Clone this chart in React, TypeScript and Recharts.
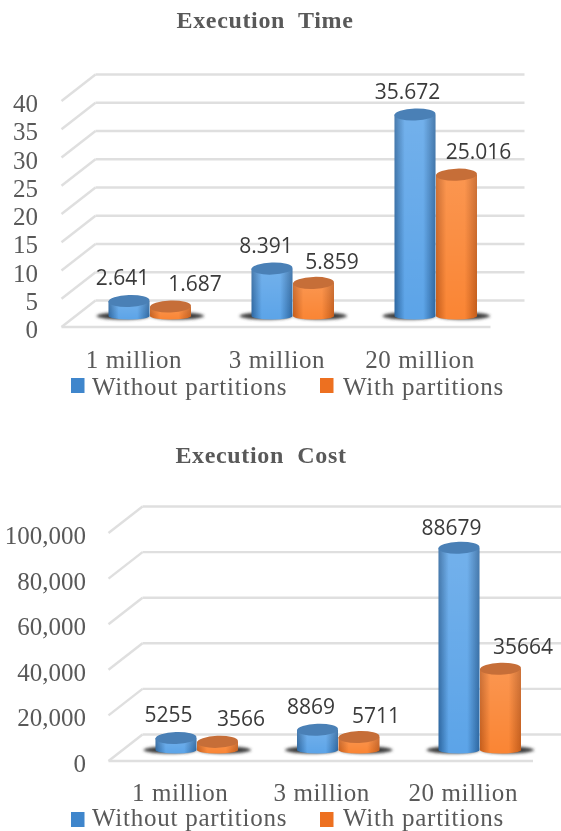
import React from 'react';
import { BarChart, Bar, XAxis, YAxis, CartesianGrid, Legend, LabelList } from 'recharts';

const CATEGORIES = ['1 million', '3 million', '20 million'];
const SERIES_NAMES = ['Without partitions', 'With partitions'];

const TIME_WITHOUT = [2.641, 8.391, 35.672];
const TIME_WITH = [1.687, 5.859, 25.016];
const TIME_TICKS = [0, 5, 10, 15, 20, 25, 30, 35, 40];

const COST_WITHOUT = [5255, 8869, 88679];
const COST_WITH = [3566, 5711, 35664];
const COST_TICKS = [0, 20000, 40000, 60000, 80000, 100000];

// label nudges per bar, the labels were placed by hand in the original
const TIME_NUDGE = [
  [[-6.5, -16], [-6, -15.5], [-7.5, -15.5]],
  [[24.5, -15.5], [18.5, -14], [22, -16]],
];
const COST_NUDGE = [
  [[-7.5, -16], [-6.5, -16], [-7.5, -13]],
  [[23.5, -16], [17, -14], [22.5, -15]],
];

const SERIF = '"Liberation Serif", serif';
const GREY = '#595959';
const DEPTH_X = 17;
const BACK_Y = 15.5;
const FRONT_Y = 11;

const PALETTE = [
  { id: 'blue', edge: '#2c66a0', mid: '#5ca4e8', top: '#4a80b6', legend: '#3f86cc' },
  { id: 'orange', edge: '#c45c1a', mid: '#fa8534', top: '#c66e38', legend: '#ed7020' },
];

const Cylinder = (props: any) => {
  const { x, y, width, height, series } = props;
  const c = PALETTE[series];
  const cx = x + width / 2;
  const rx = width / 2;
  const ry = 6;
  const bottom = y + height;
  const shadowX = series === 0 ? cx - 6 : cx + 7;
  const body = `M${x},${y} L${x},${bottom} A${rx},3.5 0 0 0 ${x + width},${bottom} L${x + width},${y} Z`;
  return (
    <g>
      <ellipse cx={shadowX} cy={bottom} rx={rx + 6} ry={3.5} fill="#3c3c3c" filter="url(#baseShadow)" />
      <path d={body} fill={`url(#body-${c.id})`} />
      <path d={body} fill="url(#sheen)" />
      <ellipse cx={cx} cy={y} rx={rx} ry={ry} fill={c.top} transform={`rotate(-2 ${cx} ${y})`} />
    </g>
  );
};

const AxisValue = ({ y, payload, right, format }: any) => (
  <text x={right} y={y + FRONT_Y + 11} textAnchor="end" fontFamily={SERIF} fontSize={25} fill={GREY}>
    {format(payload.value)}
  </text>
);

const AxisCategory = ({ x, y, payload, shift, drop }: any) => (
  <text x={x + shift} y={y + drop} textAnchor="middle" fontFamily={SERIF} fontSize={25} letterSpacing={0.6} fill={GREY}>
    {payload.value}
  </text>
);

const gridLine = (props: any, lowest: number) => {
  const { x1, x2, y1 } = props;
  const isFloor = Math.abs(y1 - lowest) < 1;
  return (
    <g key={`grid-${y1}`} stroke="#dfdfdf" strokeWidth={2.4} fill="none">
      <line x1={x1 + DEPTH_X} x2={x2 + DEPTH_X} y1={y1 - BACK_Y} y2={y1 - BACK_Y} />
      <line x1={x1 - DEPTH_X} x2={x1 + DEPTH_X} y1={y1 + FRONT_Y} y2={y1 - BACK_Y} />
      {isFloor && <line x1={x1 - DEPTH_X} x2={x2 - DEPTH_X} y1={y1 + FRONT_Y} y2={y1 + FRONT_Y} />}
    </g>
  );
};

const LegendRow = ({ top, textDrop }: { top: number; textDrop: number }) => {
  const items = [
    { square: 71, text: 92 },
    { square: 320, text: 343 },
  ];
  return (
    <svg width={561} height={40} style={{ position: 'absolute', left: 0, top, overflow: 'visible' }}>
      {items.map((it, i) => (
        <g key={SERIES_NAMES[i]}>
          <rect x={it.square} y={0} width={13.5} height={15} fill={PALETTE[i].legend} />
          <text x={it.text} y={textDrop} fontFamily={SERIF} fontSize={25} letterSpacing={0.75} fill={GREY}>
            {SERIES_NAMES[i]}
          </text>
        </g>
      ))}
    </svg>
  );
};

const makeLabel = (nudge: number[][], format: (v: number) => string) => (props: any) => {
  const { x, y, width, value, index } = props;
  const [dx, dy] = nudge[index];
  return (
    <text x={x + width / 2 + dx} y={y + dy} textAnchor="middle" fontFamily='"Open Sans", sans-serif' fontSize={21} fill="#3a3a3a">
      {format(value)}
    </text>
  );
};

interface PanelProps {
  title: string;
  titleX: number;
  titleY: number;
  top: number;
  height: number;
  without: number[];
  withP: number[];
  ticks: number[];
  plotLeft: number;
  plotRight: number;
  plotTop: number;
  plotBottom: number;
  tickRight: number;
  labelShift: number;
  labelDrop: number;
  legendTop: number;
  legendTextDrop: number;
  nudge: number[][][];
  valueFormat: (v: number) => string;
  tickFormat: (v: number) => string;
}

const Panel = (p: PanelProps) => {
  const rows = CATEGORIES.map((name, i) => ({ name, without: p.without[i], withP: p.withP[i] }));
  return (
    <div style={{ position: 'absolute', left: 0, top: p.top, width: 561, height: p.height }}>
      <div
        style={{
          position: 'absolute',
          left: p.titleX - 150,
          top: p.titleY,
          width: 300,
          textAlign: 'center',
          whiteSpace: 'pre',
          fontFamily: SERIF,
          fontWeight: 'bold',
          fontSize: 24,
          letterSpacing: 0.65,
          color: GREY,
        }}
      >
        {p.title}
      </div>
      <BarChart
        width={561}
        height={p.height}
        data={rows}
        barSize={41}
        barGap={0.5}
        margin={{ top: p.plotTop, right: 561 - p.plotRight, bottom: p.height - p.plotBottom - 60, left: 0 }}
      >
        <defs>
          {PALETTE.map((c) => (
            <linearGradient key={c.id} id={`body-${c.id}`} x1="0" x2="1" y1="0" y2="0">
              <stop offset="0" stopColor={c.edge} />
              <stop offset="0.25" stopColor={c.mid} />
              <stop offset="0.7" stopColor={c.mid} />
              <stop offset="1" stopColor={c.edge} />
            </linearGradient>
          ))}
          <linearGradient id="sheen" x1="0" x2="0" y1="0" y2="1">
            <stop offset="0" stopColor="#ffffff" stopOpacity={0.14} />
            <stop offset="1" stopColor="#ffffff" stopOpacity={0} />
          </linearGradient>
          <filter id="baseShadow" x="-30%" y="-100%" width="160%" height="300%">
            <feGaussianBlur stdDeviation="1.6" />
          </filter>
        </defs>
        <CartesianGrid vertical={false} horizontal={(g: any) => gridLine(g, p.plotBottom)} />
        <XAxis
          dataKey="name"
          height={60}
          axisLine={false}
          tickLine={false}
          interval={0}
          tick={<AxisCategory shift={p.labelShift} drop={p.labelDrop} />}
          tickMargin={37}
        />
        <YAxis
          width={p.plotLeft}
          domain={[p.ticks[0], p.ticks[p.ticks.length - 1]]}
          ticks={p.ticks}
          interval={0}
          axisLine={false}
          tickLine={false}
          tick={<AxisValue right={p.tickRight} format={p.tickFormat} />}
        />
        <Legend
          wrapperStyle={{ left: 0, top: 0, bottom: 'auto', width: 561, height: 0 }}
          content={() => <LegendRow top={p.legendTop} textDrop={p.legendTextDrop} />}
        />
        <Bar dataKey="without" name={SERIES_NAMES[0]} isAnimationActive={false} shape={<Cylinder series={0} />}>
          <LabelList dataKey="without" content={makeLabel(p.nudge[0], p.valueFormat)} />
        </Bar>
        <Bar dataKey="withP" name={SERIES_NAMES[1]} isAnimationActive={false} shape={<Cylinder series={1} />}>
          <LabelList dataKey="withP" content={makeLabel(p.nudge[1], p.valueFormat)} />
        </Bar>
      </BarChart>
    </div>
  );
};

const App = () => (
  <div style={{ position: 'absolute', left: 0, top: 0, width: 561, height: 831, overflow: 'hidden', background: '#fff', filter: 'blur(0.5px)' }}>
    <Panel
      title="Execution  Time"
      titleX={265}
      titleY={7}
      top={0}
      height={415}
      without={TIME_WITHOUT}
      withP={TIME_WITH}
      ticks={TIME_TICKS}
      plotLeft={78.5}
      plotRight={507.5}
      plotTop={90}
      plotBottom={316}
      tickRight={38}
      labelShift={-16}
      labelDrop={9}
      legendTop={378}
      legendTextDrop={17}
      nudge={TIME_NUDGE}
      valueFormat={(v) => v.toFixed(3)}
      tickFormat={(v) => String(v)}
    />
    <Panel
      title="Execution  Cost"
      titleX={261}
      titleY={27}
      top={415}
      height={416}
      without={COST_WITHOUT}
      withP={COST_WITH}
      ticks={COST_TICKS}
      plotLeft={125.5}
      plotRight={550}
      plotTop={107}
      plotBottom={335}
      tickRight={86}
      labelShift={-16}
      labelDrop={8}
      legendTop={397}
      legendTextDrop={13.5}
      nudge={COST_NUDGE}
      valueFormat={(v) => String(v)}
      tickFormat={(v) => v.toLocaleString('en-US')}
    />
  </div>
);

export default App;
